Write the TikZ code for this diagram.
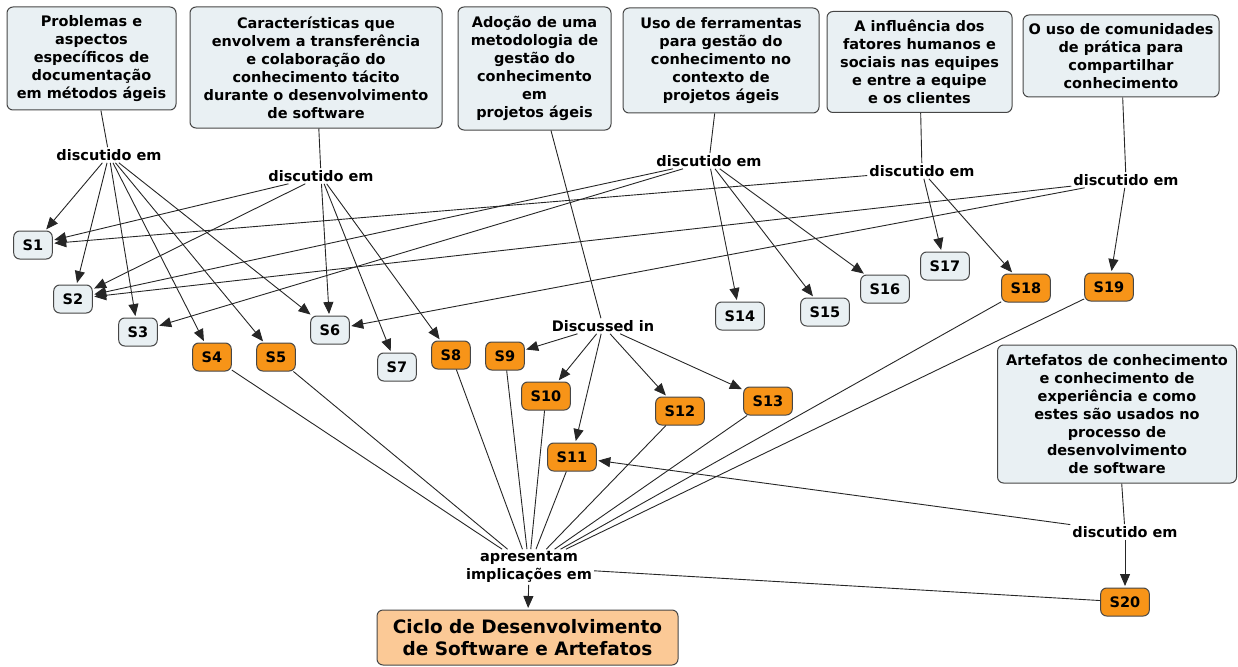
\documentclass[tikz,border=0pt]{standalone}
\usepackage{fontspec}
\setmainfont{DejaVu Sans}
\usetikzlibrary{arrows.meta}
\definecolor{cfill}{RGB}{233,240,243}
\definecolor{cborder}{RGB}{70,70,70}
\definecolor{sorange}{RGB}{247,148,24}
\definecolor{peach}{RGB}{251,201,150}
\begin{document}
\begin{tikzpicture}[x=1pt,y=-1pt,
  every node/.style={font=\bfseries\fontsize{14.5}{18}\selectfont},
  concept/.style={draw=cborder, fill=cfill, rounded corners=6pt, line width=1pt,
    align=center, inner sep=2pt},
  sgray/.style={concept, minimum height=28pt, inner xsep=9pt},
  sorg/.style={sgray, fill=sorange},
  linkp/.style={inner sep=2pt, align=center},
  ln/.style={line width=0.9pt, black!85},
  arr/.style={ln, -{Triangle[length=12pt,width=10pt]}, shorten >=1.5pt},
]
\useasboundingbox (0,0) rectangle (1238,666);

% topic boxes
\node[concept, minimum width=169pt, minimum height=103pt] (A) at (91.5,58.5)
  {Problemas e\\aspectos\\específicos de\\documentação\\em métodos ágeis};
\node[concept, minimum width=252pt, minimum height=121pt] (B) at (316,67.5)
  {Características que\\envolvem a transferência\\e colaboração do\\conhecimento tácito\\durante o desenvolvimento\\de software};
\node[concept, minimum width=153pt, minimum height=123pt] (C) at (534.5,68.5)
  {Adoção de uma\\metodologia de\\gestão do\\conhecimento\\em\\projetos ágeis};
\node[concept, minimum width=196pt, minimum height=105pt] (D) at (721,60.5)
  {Uso de ferramentas\\para gestão do\\conhecimento no\\contexto de\\projetos ágeis};
\node[concept, minimum width=185pt, minimum height=101pt] (E) at (919.5,62)
  {A influência dos\\fatores humanos e\\sociais nas equipes\\e entre a equipe\\e os clientes};
\node[concept, minimum width=196pt, minimum height=82pt] (F) at (1121,56)
  {O uso de comunidades\\de prática para\\compartilhar\\conhecimento};
\node[concept, minimum width=239pt, minimum height=138pt] (G) at (1117,414)
  {Artefatos de conhecimento\\e conhecimento de\\experiência e como\\estes são usados no\\processo de\\desenvolvimento\\de software};

% linking phrases
\node[linkp] (La) at (109,155) {discutido em};
\node[linkp] (Lb) at (321,176) {discutido em};
\node[linkp] (Ld) at (709,161) {discutido em};
\node[linkp] (Le) at (922,171) {discutido em};
\node[linkp] (Lf) at (1126,180) {discutido em};
\node[linkp] (Lc) at (603,326) {Discussed in};
\node[linkp] (Lg) at (1125,532) {discutido em};
\node[linkp] (Lp) at (529,567) {apresentam\\implicações em};

% studies
\node[sgray] (S1)  at (33,245)   {S1};
\node[sgray] (S2)  at (73,299)   {S2};
\node[sgray] (S3)  at (138,332)  {S3};
\node[sorg]  (S4)  at (212,357)  {S4};
\node[sorg]  (S5)  at (276,357)  {S5};
\node[sgray] (S6)  at (330,330)  {S6};
\node[sgray] (S7)  at (397,367)  {S7};
\node[sorg]  (S8)  at (451,355)  {S8};
\node[sorg]  (S9)  at (505,356)  {S9};
\node[sorg]  (S10) at (546,396)  {S10};
\node[sorg]  (S11) at (572,457)  {S11};
\node[sorg]  (S12) at (680,411)  {S12};
\node[sorg]  (S13) at (768,401)  {S13};
\node[sgray] (S14) at (740,316)  {S14};
\node[sgray] (S15) at (825,312)  {S15};
\node[sgray] (S16) at (885,289)  {S16};
\node[sgray] (S17) at (945,266)  {S17};
\node[sorg]  (S18) at (1026,288) {S18};
\node[sorg]  (S19) at (1109,287) {S19};
\node[sorg]  (S20) at (1125,602) {S20};

% result
\node[concept, fill=peach, font=\bfseries\fontsize{18.5}{22}\selectfont,
  minimum width=301pt, minimum height=55pt] (K) at (527.5,637.5)
  {Ciclo de Desenvolvimento\\de Software e Artefatos};

% connections
\draw[ln] (A) -- (La);
\foreach \t in {S1,S2,S3,S4,S5,S6} \draw[arr] (La) -- (\t);
\draw[ln] (B) -- (Lb);
\foreach \t in {S1,S2,S6,S7,S8} \draw[arr] (Lb) -- (\t);
\draw[ln] (C) -- (Lc);
\foreach \t in {S9,S10,S11,S12,S13} \draw[arr] (Lc) -- (\t);
\draw[ln] (D) -- (Ld);
\foreach \t in {S2,S3,S14,S15,S16} \draw[arr] (Ld) -- (\t);
\draw[ln] (E) -- (Le);
\foreach \t in {S1,S17,S18} \draw[arr] (Le) -- (\t);
\draw[ln] (F) -- (Lf);
\foreach \t in {S2,S6,S19} \draw[arr] (Lf) -- (\t);
\draw[ln] (G) -- (Lg);
\foreach \t in {S11,S20} \draw[arr] (Lg) -- (\t);
\foreach \s in {S4,S5,S8,S9,S10,S11,S12,S13,S18,S19,S20} \draw[ln] (\s) -- (Lp);
\draw[arr] (Lp) -- (K);
\end{tikzpicture}
\end{document}
